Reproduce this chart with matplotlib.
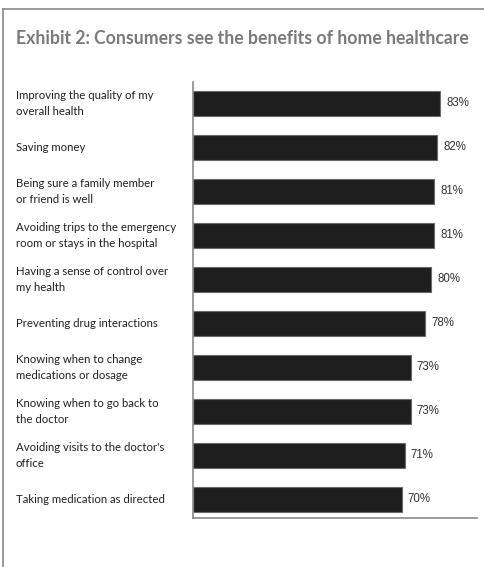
import matplotlib.pyplot as plt
import matplotlib.transforms as mtransforms
from matplotlib.lines import Line2D

labels = [
    "Improving the quality of my\noverall health",
    "Saving money",
    "Being sure a family member\nor friend is well",
    "Avoiding trips to the emergency\nroom or stays in the hospital",
    "Having a sense of control over\nmy health",
    "Preventing drug interactions",
    "Knowing when to change\nmedications or dosage",
    "Knowing when to go back to\nthe doctor",
    "Avoiding visits to the doctor's\noffice",
    "Taking medication as directed",
]
values = [83, 82, 81, 81, 80, 78, 73, 73, 71, 70]

W, H = 485, 567
fig = plt.figure(figsize=(W / 100, H / 100), dpi=100)
plt.rcParams["font.family"] = ["Lato", "DejaVu Sans"]

# plot area in pixel coords
left, right, top, bottom = 193, 477, 82, 518
ax = fig.add_axes([left / W, 1 - bottom / H, (right - left) / W, (bottom - top) / H])

ypos = list(range(len(values)))
ax.barh(ypos, values, height=0.57, color="#1e1e1e", edgecolor="#6a6a6a", linewidth=0.8)
for y, v in zip(ypos, values):
    ax.text(v + 2, y, f"{v}%", va="center", ha="left", fontsize=8.3,
            color="#333333", family="Liberation Sans")

ax.set_xlim(0, 95.3)
ax.set_ylim(9.43, -0.48)
ax.set_xticks([])
ax.set_yticks([])
for s in ["top", "right"]:
    ax.spines[s].set_visible(False)
for s in ["left", "bottom"]:
    ax.spines[s].set_color("#8a8a8a")
    ax.spines[s].set_linewidth(1.2)

# category labels sit left of the axis, aligned to a fixed margin
trans = mtransforms.blended_transform_factory(fig.transFigure, ax.transData)
for y, lab in zip(ypos, labels):
    ax.text(16 / W, y, lab, transform=trans, ha="left", va="center",
            fontsize=8.2, color="#222222", linespacing=1.55)

fig.text(16 / W, 1 - 38 / H, "Exhibit 2: Consumers see the benefits of home healthcare",
         ha="left", va="center", fontsize=12.7, fontweight="bold", color="#7a7a7a")

# frame: top and left edges only
fig.add_artist(Line2D([3 / W, 1], [1 - 9 / H, 1 - 9 / H], transform=fig.transFigure,
                      color="#8a8a8a", linewidth=1.2))
fig.add_artist(Line2D([3 / W, 3 / W], [1 - 9 / H, 0], transform=fig.transFigure,
                      color="#8a8a8a", linewidth=1.2))

fig.savefig("out.png", dpi=100)
